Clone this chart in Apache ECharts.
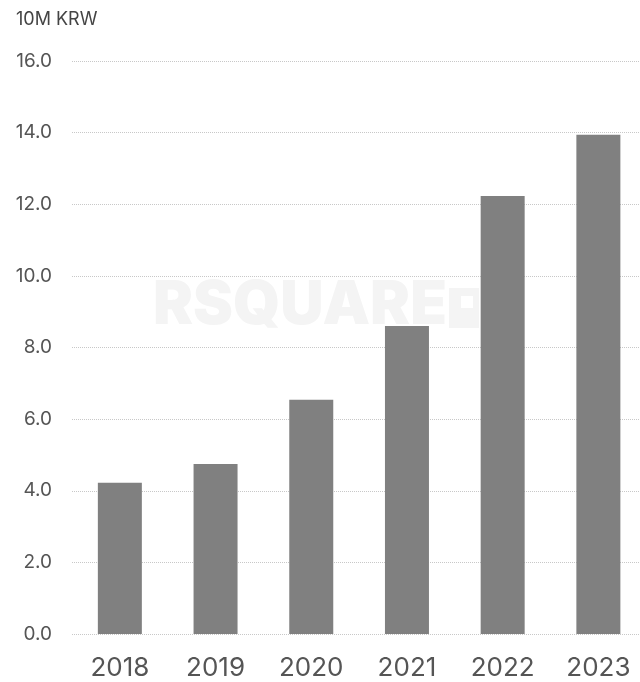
<!DOCTYPE html>
<html>
<head>
    <meta charset="UTF-8">
    <title>10M KRW by year</title>
    <script src="https://cdn.jsdelivr.net/npm/echarts@6/dist/echarts.min.js"></script>
    <style>
        html, body { margin: 0; padding: 0; background: #fff; }
    </style>
</head>
<body>
<div id="main" style="width: 640px;height:682px;"></div>
<script type="text/javascript">
    // 数据
    const years = ['2018', '2019', '2020', '2021', '2022', '2023'];
    const values = [4.22, 4.75, 6.54, 8.6, 12.23, 13.94];
    const unitLabel = '10M KRW';
    const watermark = 'RSQUARE';

    // x 轴用数值轴, 右侧稍微截掉一点 (原图最后一格超出画布)
    let barData = values.map((v, i) => [i, v]);
    let yearIdx = years.map((_, i) => i);

    var myChart = echarts.init(document.getElementById('main'));

    let option = {
        animation: false,
        textStyle: {
            fontFamily: 'Inter'
        },
        title: {
            text: unitLabel,
            left: 11,
            top: 6,
            textStyle: {
                fontSize: 18,
                fontWeight: 'normal',
                color: '#444'
            }
        },
        graphic: [
            {
                type: 'text',
                left: 153,
                top: 276,
                z: -10,
                silent: true,
                style: {
                    text: watermark,
                    fontSize: 60,
                    fontWeight: 900,
                    fontFamily: 'Inter',
                    fill: '#f4f4f4'
                }
            },
            {
                type: 'group',
                left: 449,
                top: 288,
                z: -10,
                silent: true,
                children: [
                    {
                        type: 'rect',
                        shape: {x: 0, y: 0, width: 30, height: 40},
                        style: {fill: '#f4f4f4'}
                    },
                    {
                        type: 'rect',
                        shape: {x: 12, y: 8, width: 12, height: 12},
                        style: {fill: '#fff'}
                    }
                ]
            }
        ],
        grid: {
            left: 72,
            right: 0,
            top: 61,
            bottom: 48,
            containLabel: false
        },
        xAxis: {
            type: 'value',
            min: -0.5,
            max: 5.435,
            axisLine: {show: false},
            axisTick: {show: false},
            splitLine: {show: false},
            axisLabel: {
                customValues: yearIdx,
                fontSize: 26,
                color: '#555',
                margin: 21,
                formatter: v => years[v]
            }
        },
        yAxis: {
            type: 'value',
            min: 0,
            max: 16,
            interval: 2,
            axisLine: {show: false},
            axisTick: {show: false},
            axisLabel: {
                fontSize: 19,
                color: '#555',
                margin: 20,
                formatter: v => v.toFixed(1)
            },
            splitLine: {
                lineStyle: {
                    type: 'dotted',
                    color: '#c8c8c8',
                    width: 1
                }
            }
        },
        series: [
            {
                type: 'bar',
                data: barData,
                barWidth: 44,
                itemStyle: {
                    color: '#808080'
                }
            }
        ]
    };

    myChart.setOption(option);
</script>
</body>
</html>
